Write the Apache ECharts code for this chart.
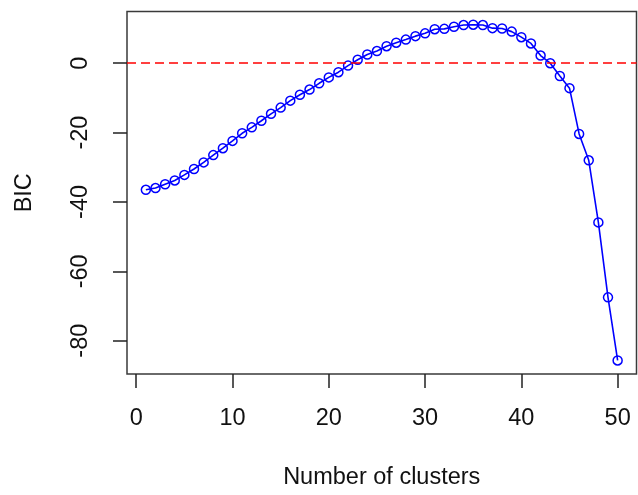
<!DOCTYPE html>
<html>
<head>
<meta charset="utf-8">
<script src="https://cdn.jsdelivr.net/npm/echarts@6/dist/echarts.min.js"></script>
<style>
  html, body { margin: 0; padding: 0; background: #fff; }
  #chart { width: 638px; height: 495px; }
</style>
</head>
<body>
<div id="chart"></div>
<script>
// BIC score for each candidate number of clusters
const clusters = [1, 2, 3, 4, 5, 6, 7, 8, 9, 10,
  11, 12, 13, 14, 15, 16, 17, 18, 19, 20,
  21, 22, 23, 24, 25, 26, 27, 28, 29, 30,
  31, 32, 33, 34, 35, 36, 37, 38, 39, 40,
  41, 42, 43, 44, 45, 46, 47, 48, 49, 50];
const bic = [-36.5, -36.0, -34.9, -33.8, -32.2, -30.5, -28.6, -26.5, -24.5, -22.4,
  -20.2, -18.5, -16.6, -14.6, -12.8, -10.8, -9.1, -7.6, -5.8, -4.1,
  -2.6, -0.7, 1.0, 2.5, 3.5, 4.9, 5.9, 6.8, 7.8, 8.6,
  9.8, 9.9, 10.5, 11.0, 11.1, 11.0, 10.1, 10.0, 9.1, 7.5,
  5.7, 2.2, 0.0, -3.7, -7.2, -20.4, -28.0, -45.9, -67.5, -85.7];
const xTicks = [0, 10, 20, 30, 40, 50];
const yTicks = [-80, -60, -40, -20, 0];
const referenceLevel = 0;

const points = clusters.map((c, i) => [c, bic[i]]);
const fontFamily = '"Liberation Sans", Arial, sans-serif';
const fontSize = 23.5;

const chart = echarts.init(document.getElementById('chart'), null, { renderer: 'canvas' });
chart.setOption({
  animation: false,
  backgroundColor: '#ffffff',
  grid: {
    left: 127, top: 11.5, right: 1.5, bottom: 121,
    show: true, borderColor: '#3a3a3a', borderWidth: 1.5,
    backgroundColor: 'transparent'
  },
  xAxis: {
    type: 'value',
    min: -0.96, max: 51.96,
    name: 'Number of clusters',
    nameLocation: 'middle',
    nameGap: 92,
    nameTextStyle: { fontFamily, fontSize, color: '#111' },
    axisLine: { show: false, onZero: false },
    splitLine: { show: false },
    axisTick: { show: true, inside: false, length: 14, customValues: xTicks,
      lineStyle: { color: '#222', width: 1.5 } },
    axisLabel: { customValues: xTicks, margin: 33, fontFamily, fontSize, color: '#111' }
  },
  yAxis: {
    type: 'value',
    min: -89.6, max: 14.9,
    name: 'BIC',
    nameLocation: 'middle',
    nameRotate: 90,
    nameGap: 90,
    nameTextStyle: { fontFamily, fontSize, color: '#111' },
    axisLine: { show: false, onZero: false },
    splitLine: { show: false },
    axisTick: { show: true, inside: false, length: 14, customValues: yTicks,
      lineStyle: { color: '#222', width: 1.5 } },
    axisLabel: { customValues: yTicks, rotate: 90, margin: 34, fontFamily, fontSize, color: '#111' }
  },
  series: [{
    type: 'line',
    data: points,
    color: '#0000ff',
    symbol: 'circle',
    symbolSize: 9,
    showSymbol: true,
    lineStyle: { color: '#0000ff', width: 1.6 },
    itemStyle: { color: 'rgba(0,0,0,0)', borderColor: '#0000ff', borderWidth: 1.5 },
    emphasis: { disabled: true },
    markLine: {
      silent: true,
      symbol: ['none', 'none'],
      label: { show: false },
      lineStyle: { color: '#ff0000', type: [9, 5], width: 1.6 },
      data: [{ yAxis: referenceLevel }]
    },
    z: 3
  }]
});
</script>
</body>
</html>
